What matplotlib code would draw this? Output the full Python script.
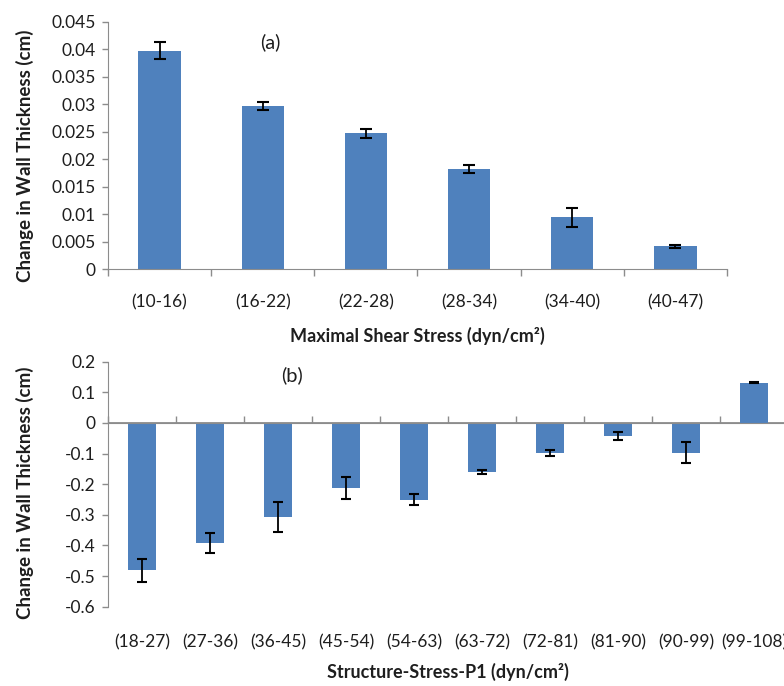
import numpy as np
import matplotlib
matplotlib.use("Agg")
import matplotlib.pyplot as plt
from matplotlib.ticker import FixedLocator, FuncFormatter

plt.rcParams["font.family"] = ["Lato", "DejaVu Sans"]
plt.rcParams["axes.unicode_minus"] = False

# ------------------------------------------------------------
# Data
# ------------------------------------------------------------

shear_bins = ["(10-16)", "(16-22)", "(22-28)", "(28-34)", "(34-40)", "(40-47)"]
shear_change = [0.0398, 0.0297, 0.0247, 0.0182, 0.0094, 0.0041]
shear_err = [0.0016, 0.0008, 0.0008, 0.0008, 0.0017, 0.0002]

p1_bins = ["(18-27)", "(27-36)", "(36-45)", "(45-54)", "(54-63)",
           "(63-72)", "(72-81)", "(81-90)", "(90-99)", "(99-108)"]
p1_change = [-0.481, -0.392, -0.307, -0.212, -0.250,
             -0.160, -0.097, -0.043, -0.097, 0.132]
p1_err = [0.037, 0.034, 0.050, 0.036, 0.019,
          0.008, 0.010, 0.014, 0.035, 0.002]

bar_color = "#4F81BD"
axis_grey = "#8C8C8C"
text_col = "#1E1E1E"

W, H = 784, 686
fig = plt.figure(figsize=(W / 100, H / 100), dpi=100)


def px_axes(left, right, top, bottom):
    return fig.add_axes([left / W, 1 - bottom / H, (right - left) / W, (bottom - top) / H])


def tick_fmt(v, pos):
    v = round(v, 4) + 0.0
    return "0" if v == 0 else f"{v:g}"


def style_y(ax, ticks):
    ax.set_yticks(ticks)
    ax.yaxis.set_major_formatter(FuncFormatter(tick_fmt))
    ax.tick_params(axis="y", length=4, width=1, color=axis_grey, pad=5,
                   labelsize=12.5, labelcolor=text_col)
    ax.spines["left"].set_color(axis_grey)
    for s in ["top", "right"]:
        ax.spines[s].set_visible(False)


# ------------------------------------------------------------
# (a) Maximal shear stress
# ------------------------------------------------------------

ax1 = px_axes(108, 727, 22, 269)
x1 = np.arange(len(shear_bins))
ax1.bar(x1, shear_change, width=0.41, color=bar_color, zorder=2)
ax1.errorbar(x1, shear_change, yerr=shear_err, fmt="none", ecolor="black",
             elinewidth=1.3, capsize=4.5, capthick=1.5, zorder=3)
ax1.set_xlim(-0.5, len(shear_bins) - 0.5)
ax1.set_ylim(0, 0.045)
style_y(ax1, np.arange(0, 0.0451, 0.005))

ax1.set_xticks(x1)
ax1.set_xticklabels(shear_bins)
ax1.xaxis.set_minor_locator(FixedLocator(np.arange(len(shear_bins) + 1) - 0.5))
ax1.tick_params(axis="x", which="major", length=0, pad=18, labelsize=12.5,
                labelcolor=text_col)
ax1.tick_params(axis="x", which="minor", length=5, width=1, color=axis_grey,
                direction="out")
ax1.spines["bottom"].set_color(axis_grey)

ax1.set_xlabel("Maximal Shear Stress (dyn/cm\u00b2)", fontsize=13,
               fontweight="bold", color=text_col, labelpad=12)
ax1.set_ylabel("Change in Wall Thickness (cm)", fontsize=13.5,
               fontweight="bold", color=text_col)
ax1.yaxis.set_label_coords(-0.12, 0.46)
ax1.text(0.262, 0.919, "(a)", transform=ax1.transAxes, fontsize=14.5,
         ha="center", va="center", color=text_col)

# ------------------------------------------------------------
# (b) Structure-Stress-P1
# ------------------------------------------------------------

ax2 = px_axes(108, 788, 361.7, 606.7)
x2 = np.arange(len(p1_bins))
ax2.bar(x2, p1_change, width=0.40, color=bar_color, zorder=2)
ax2.errorbar(x2, p1_change, yerr=p1_err, fmt="none", ecolor="black",
             elinewidth=1.3, capsize=3.5, capthick=1.5, zorder=3)
ax2.set_xlim(-0.5, len(p1_bins) - 0.5)
ax2.set_ylim(-0.6, 0.2)
style_y(ax2, np.arange(-0.6, 0.201, 0.1))

# category axis line sits on zero, with boundary ticks pointing up
ax2.axhline(0, color=axis_grey, linewidth=1.3, zorder=1.5)
ax2.spines["bottom"].set_position(("data", 0))
ax2.spines["bottom"].set_color(axis_grey)
ax2.set_xticks(np.arange(len(p1_bins) + 1) - 0.5)
ax2.tick_params(axis="x", length=5, width=1, color=axis_grey,
                direction="in", labelbottom=False)

# category labels sit below the plot
cat_axis = ax2.secondary_xaxis("bottom")
cat_axis.set_xticks(x2)
cat_axis.set_xticklabels(p1_bins)
cat_axis.tick_params(axis="x", length=0, pad=20, labelsize=12.5,
                     labelcolor=text_col)
cat_axis.spines["bottom"].set_visible(False)
cat_axis.set_xlabel("Structure-Stress-P1 (dyn/cm\u00b2)", fontsize=13,
                    fontweight="bold", color=text_col, labelpad=9)

ax2.set_ylabel("Change in Wall Thickness (cm)", fontsize=13.5,
               fontweight="bold", color=text_col)
ax2.yaxis.set_label_coords(-0.109, 0.464)
ax2.text(0.27, 0.946, "(b)", transform=ax2.transAxes, fontsize=14.5,
         ha="center", va="center", color=text_col)

fig.savefig("out.png", dpi=100)
